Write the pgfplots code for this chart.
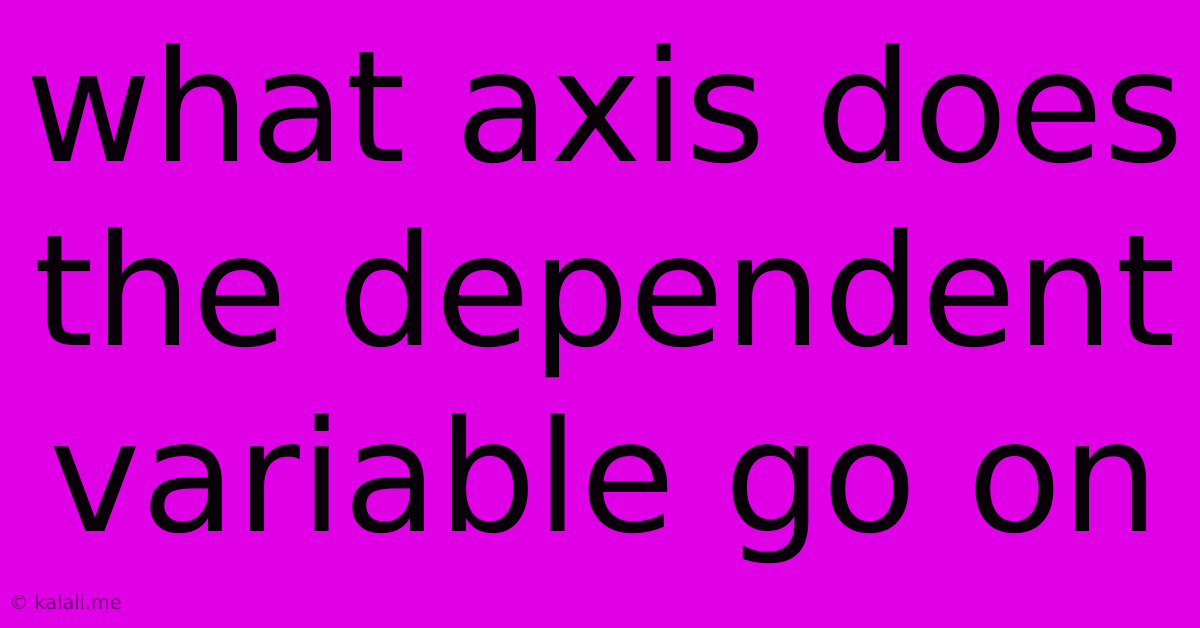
\documentclass[border=0pt]{standalone}
\usepackage{pgfplots}
\pgfplotsset{compat=1.18}
\usepackage{fontspec}
\setmainfont{DejaVu Sans}
\definecolor{bgmag}{HTML}{E000E5}
\definecolor{ink}{HTML}{0A000A}
\definecolor{mark}{HTML}{6A0070}
\begin{document}
\begin{tikzpicture}
\begin{axis}[
    hide axis,
    scale only axis,
    width=600bp, height=314bp,
    xmin=0, xmax=1200, ymin=0, ymax=628,
    clip=false,
]
    % background
    \fill[bgmag] (axis cs:0,0) rectangle (axis cs:1200,628);
    % title lines, baselines
    \node[anchor=base, inner sep=0pt, text=ink, font=\fontsize{77.5bp}{90bp}\selectfont]
        at (axis cs:605,466) {what axis does};
    \node[anchor=base, inner sep=0pt, text=ink, font=\fontsize{77.5bp}{90bp}\selectfont]
        at (axis cs:605,282) {the dependent};
    \node[anchor=base, inner sep=0pt, text=ink, font=\fontsize{77.5bp}{90bp}\selectfont]
        at (axis cs:605,96) {variable go on};
    % watermark
    \node[anchor=base west, inner sep=0pt, text=mark, font=\fontsize{9.6bp}{11bp}\selectfont]
        at (axis cs:9,19) {© kalali.me};
\end{axis}
\end{tikzpicture}
\end{document}
